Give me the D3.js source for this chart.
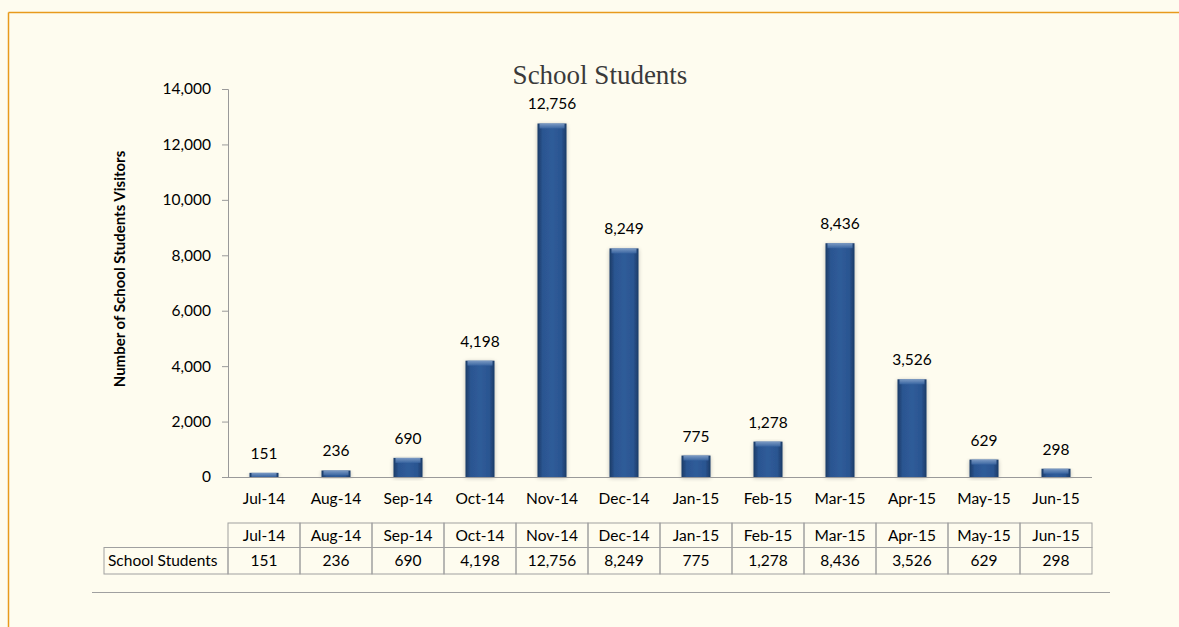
<!DOCTYPE html>
<html><head><meta charset="utf-8">
<script src="https://cdn.jsdelivr.net/npm/d3@7"></script>
<style>
html,body{margin:0;padding:0;background:#FEFCEF;}
svg{display:block;}
</style></head>
<body>
<svg id="chart" width="1179" height="627"></svg>
<script>
const categories = ["Jul-14","Aug-14","Sep-14","Oct-14","Nov-14","Dec-14","Jan-15","Feb-15","Mar-15","Apr-15","May-15","Jun-15"];
const values = [151,236,690,4198,12756,8249,775,1278,8436,3526,629,298];
const yTicks = [0,2000,4000,6000,8000,10000,12000,14000];
const seriesName = "School Students";
const title = "School Students";
const yTitle = "Number of School Students Visitors";

const svg = d3.select("#chart");
const fmt = d3.format(",");
const font = "Lato, 'Open Sans', sans-serif";
const fs = 15.5;

// border
svg.append("line").attr("x1",8.5).attr("x2",1179).attr("y1",12.5).attr("y2",12.5).attr("stroke","#E89A1C").attr("stroke-width",1.5);
svg.append("line").attr("x1",8.5).attr("x2",8.5).attr("y1",12.5).attr("y2",627).attr("stroke","#E89A1C").attr("stroke-width",1.5);

const x = d3.scaleBand().domain(categories).range([228,1092]).padding(0);
const y = d3.scaleLinear().domain([0,14000]).range([477,89]);

const defs = svg.append("defs");
const g1 = defs.append("linearGradient").attr("id","barGrad").attr("x1","0").attr("x2","1").attr("y1","0").attr("y2","0");
g1.append("stop").attr("offset","0%").attr("stop-color","#1c3a66");
g1.append("stop").attr("offset","18%").attr("stop-color","#2b5591");
g1.append("stop").attr("offset","50%").attr("stop-color","#2f5c99");
g1.append("stop").attr("offset","82%").attr("stop-color","#2b5591");
g1.append("stop").attr("offset","100%").attr("stop-color","#1c3a66");
const g2 = defs.append("linearGradient").attr("id","capGrad").attr("x1","0").attr("x2","0").attr("y1","0").attr("y2","1");
g2.append("stop").attr("offset","0%").attr("stop-color","#8aa6cc");
g2.append("stop").attr("offset","100%").attr("stop-color","#3a66a2");
const flt = defs.append("filter").attr("id","shadow").attr("x","-30%").attr("y","-10%").attr("width","160%").attr("height","130%");
flt.append("feGaussianBlur").attr("in","SourceAlpha").attr("stdDeviation",2);
flt.append("feOffset").attr("dx",0).attr("dy",1).attr("result","b");
flt.append("feComponentTransfer").append("feFuncA").attr("type","linear").attr("slope",0.25);
const fm = flt.append("feMerge"); fm.append("feMergeNode"); fm.append("feMergeNode").attr("in","SourceGraphic");

// title
svg.append("text").attr("x",600).attr("y",84).attr("text-anchor","middle")
  .attr("font-family","'Liberation Serif', 'DejaVu Serif', serif").attr("font-size",27).attr("fill","#3a3a3a").text(title);

// y axis title
svg.append("text").attr("transform","translate(125,269) rotate(-90)").attr("text-anchor","middle")
  .attr("font-family",font).attr("font-weight","bold").attr("font-size",15).attr("fill","#000").text(yTitle);

// y axis
const yAxis = svg.append("g").attr("transform","translate(228,0)")
  .call(d3.axisLeft(y).tickValues(yTicks).tickFormat(fmt).tickSize(6).tickPadding(11));
yAxis.select(".domain").attr("stroke","#9a9a9a");
yAxis.selectAll(".tick line").attr("stroke","#9a9a9a");
yAxis.selectAll("text").attr("font-family",font).attr("font-size",fs).attr("fill","#000");

// bars
const bw = 29;
const bars = svg.append("g");
categories.forEach((c,i)=>{
  const v = values[i];
  const cx = x(c) + x.bandwidth()/2;
  const top = y(v), h = y(0)-y(v);
  const gg = bars.append("g").attr("filter","url(#shadow)");
  gg.append("rect").attr("x",cx-bw/2).attr("y",top).attr("width",bw).attr("height",h).attr("fill","url(#barGrad)");
  const capH = Math.min(5,h);
  gg.append("rect").attr("x",cx-bw/2+2).attr("y",top).attr("width",bw-4).attr("height",capH).attr("fill","url(#capGrad)").attr("opacity",0.85);
  svg.append("text").attr("x",cx).attr("y",top-14).attr("text-anchor","middle")
    .attr("font-family",font).attr("font-size",fs).attr("fill","#000").text(fmt(v));
});

// x axis
svg.append("line").attr("x1",228).attr("x2",1092).attr("y1",477.5).attr("y2",477.5).attr("stroke","#9a9a9a").attr("stroke-width",1.2);
const xAxis = svg.append("g").attr("transform","translate(0,477)")
  .call(d3.axisBottom(x).tickSize(0).tickPadding(16));
xAxis.select(".domain").remove();
xAxis.selectAll("text").attr("font-family",font).attr("font-size",fs).attr("fill","#000");

// data table
const tTop = 523, rowH = 24.5, tLeft = 104;
const tg = svg.append("g").attr("font-family",font).attr("font-size",fs).attr("fill","#000");
const stroke = "#a0a0a0";
categories.forEach((c)=>{
  tg.append("rect").attr("x",x(c)).attr("y",tTop).attr("width",x.bandwidth()).attr("height",rowH).attr("fill","none").attr("stroke",stroke);
  tg.append("text").attr("x",x(c)+x.bandwidth()/2).attr("y",tTop+rowH/2+5.5).attr("text-anchor","middle").text(c);
  tg.append("rect").attr("x",x(c)).attr("y",tTop+rowH).attr("width",x.bandwidth()).attr("height",rowH+2).attr("fill","none").attr("stroke",stroke);
});
values.forEach((v,i)=>{
  const c = categories[i];
  tg.append("text").attr("x",x(c)+x.bandwidth()/2).attr("y",tTop+rowH+rowH/2+6.5).attr("text-anchor","middle").text(fmt(v));
});
tg.append("rect").attr("x",tLeft).attr("y",tTop+rowH).attr("width",228-tLeft).attr("height",rowH+2).attr("fill","none").attr("stroke",stroke);
tg.append("text").attr("x",tLeft+4).attr("y",tTop+rowH+rowH/2+6.5).text(seriesName);

// bottom line
svg.append("line").attr("x1",92).attr("x2",1110).attr("y1",592.5).attr("y2",592.5).attr("stroke","#a0a0a0").attr("stroke-width",1);
</script>
</body></html>
